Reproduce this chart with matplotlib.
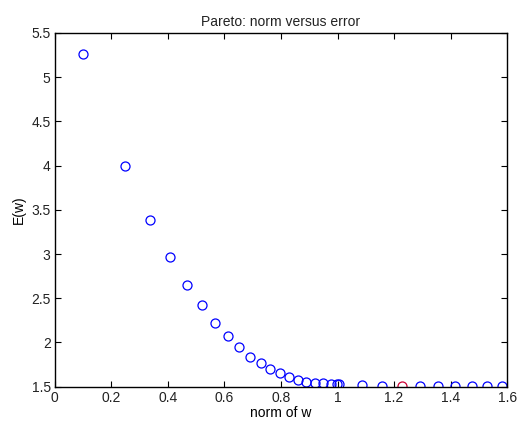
import matplotlib
matplotlib.use("Agg")
import matplotlib.pyplot as plt
import numpy as np

plt.rcParams.update({
    "font.family": ["Liberation Sans", "DejaVu Sans"],
    "font.size": 10,
    "axes.linewidth": 1.0,
    "text.color": "#222222",
    "xtick.labelcolor": "#222222",
    "ytick.labelcolor": "#222222",
})

# points on the Pareto curve (norm of w, E(w))
norm_w = [0.099, 0.248, 0.336, 0.407, 0.467, 0.519, 0.566, 0.612, 0.652,
          0.691, 0.728, 0.762, 0.796, 0.828, 0.859, 0.890, 0.919, 0.948,
          0.976, 0.998, 1.005, 1.085, 1.159, 1.293, 1.356, 1.416, 1.475,
          1.530, 1.583]
err_w = [5.26, 4.00, 3.38, 2.965, 2.655, 2.42, 2.22, 2.07, 1.945,
         1.84, 1.77, 1.70, 1.65, 1.61, 1.58, 1.555, 1.545, 1.537,
         1.53, 1.525, 1.525, 1.515, 1.51, 1.505, 1.505, 1.503, 1.503,
         1.502, 1.502]

# chosen point (red)
best_norm = [1.227]
best_err = [1.505]

fig = plt.figure(figsize=(5.17, 4.23), dpi=100)
ax = fig.add_axes([0.106, 0.086, 0.875, 0.836])

ax.plot(norm_w, err_w, linestyle='none', marker='o', markersize=6.5,
        markerfacecolor='none', markeredgecolor='#0000ff', markeredgewidth=0.9)
ax.plot(best_norm, best_err, linestyle='none', marker='o', markersize=6.5,
        markerfacecolor='none', markeredgecolor='#cc0033', markeredgewidth=0.9)

ax.set_xlim(0, 1.6)
ax.set_ylim(1.5, 5.5)
ax.set_xticks(np.arange(0, 1.61, 0.2))
ax.set_xticklabels(['0', '0.2', '0.4', '0.6', '0.8', '1', '1.2', '1.4', '1.6'])
ax.set_yticks(np.arange(1.5, 5.51, 0.5))
ax.set_yticklabels(['1.5', '2', '2.5', '3', '3.5', '4', '4.5', '5', '5.5'])

ax.xaxis.set_ticks_position("both")
ax.yaxis.set_ticks_position("both")
ax.tick_params(axis='both', which='major', direction="in", length=4, pad=3)

ax.set_xlabel('norm of w', labelpad=1)
ax.set_ylabel('E(w)', labelpad=4)
ax.set_title('Pareto: norm versus error', fontsize=10, pad=5)

fig.savefig('out.png', dpi=100)
